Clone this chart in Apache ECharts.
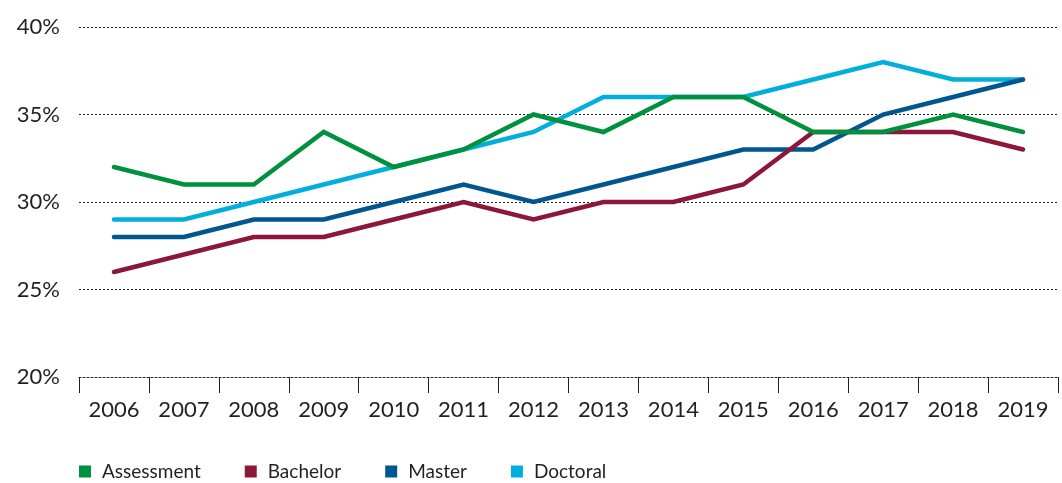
<!DOCTYPE html>
<html>
<head>
<meta charset="utf-8">
<title>Share by degree level, 2006–2019</title>
<script src="https://cdn.jsdelivr.net/npm/echarts@6/dist/echarts.min.js"></script>
<style>
  html, body { margin: 0; padding: 0; background: #ffffff; }
  #chart { width: 1062px; height: 483px; }
</style>
</head>
<body>
<div id="chart"></div>
<script>
// Years on the horizontal axis
const years = ['2006', '2007', '2008', '2009', '2010', '2011', '2012',
               '2013', '2014', '2015', '2016', '2017', '2018', '2019'];

// Percentages per series
const assessment = [32, 31, 31, 34, 32, 33, 35, 34, 36, 36, 34, 34, 35, 34];
const bachelor   = [26, 27, 28, 28, 29, 30, 29, 30, 30, 31, 34, 34, 34, 33];
const master     = [28, 28, 29, 29, 30, 31, 30, 31, 32, 33, 33, 35, 36, 37];
const doctoral   = [29, 29, 30, 31, 32, 33, 34, 36, 36, 36, 37, 38, 37, 37];

// Value axis range
const yMin = 20;
const yMax = 40;
const yStep = 5;

const legendOrder = ['Assessment', 'Bachelor', 'Master', 'Doctoral'];

const colors = {
  Assessment: '#00913f',
  Bachelor: '#8c1738',
  Master: '#00568e',
  Doctoral: '#00afdb'
};

const font = 'Lato, "Open Sans", sans-serif';
const ink = '#231f20';

function lineSeries(name, values, z) {
  return {
    name: name,
    type: 'line',
    data: values,
    z: z,
    symbol: 'none',
    color: colors[name],
    lineStyle: { width: 4.5, color: colors[name], cap: 'round', join: 'miter' },
    emphasis: { disabled: true }
  };
}

const chart = echarts.init(document.getElementById('chart'), null, { renderer: 'canvas' });

chart.setOption({
  animation: false,
  backgroundColor: '#ffffff',
  grid: { left: 79, right: 4, top: 27, height: 350, containLabel: false },
  legend: {
    data: legendOrder.map(n => ({ name: n, icon: 'rect' })),
    left: 79,
    top: 462,
    padding: 0,
    itemWidth: 12,
    itemHeight: 12,
    itemGap: 44,
    textStyle: { fontFamily: font, fontSize: 19, color: ink, padding: [0, 0, 0, 6] }
  },
  xAxis: {
    type: 'category',
    data: years,
    boundaryGap: true,
    axisLine: { show: true, lineStyle: { color: ink, width: 1, type: [2, 2] } },
    axisTick: { show: true, length: 16, inside: false, alignWithLabel: false,
                lineStyle: { color: ink, width: 1 } },
    axisLabel: { fontFamily: font, fontSize: 22, color: ink, margin: 22 }
  },
  yAxis: {
    type: 'value',
    min: yMin,
    max: yMax,
    interval: yStep,
    axisLine: { show: false },
    axisTick: { show: false },
    splitLine: { show: true, lineStyle: { color: ink, width: 1, type: [2, 2] } },
    axisLabel: { fontFamily: font, fontSize: 22, color: ink, margin: 19,
                 formatter: v => v + '%' }
  },
  series: [
    lineSeries('Doctoral', doctoral, 2),
    lineSeries('Master', master, 3),
    lineSeries('Bachelor', bachelor, 4),
    lineSeries('Assessment', assessment, 5)
  ]
});
</script>
</body>
</html>
